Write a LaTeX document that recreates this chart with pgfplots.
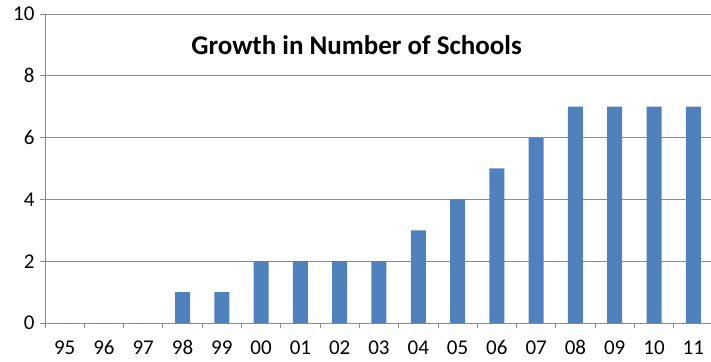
\documentclass[border=0pt]{standalone}
\usepackage{pgfplots}
\pgfplotsset{compat=1.18}
\usepackage{fontspec}
\setmainfont{Carlito}
\definecolor{barblue}{HTML}{4F81BD}
\definecolor{gridgray}{HTML}{8C8C8C}
\begin{document}
\begin{tikzpicture}
\begin{axis}[
    scale only axis,
    width=666pt, height=309pt,
    xmin=-0.5, xmax=16.45,
    ymin=0, ymax=10,
    ytick={0,2,...,10},
    xtick={0,...,16},
    xticklabels={95,96,97,98,99,00,01,02,03,04,05,06,07,08,09,10,11},
    minor xtick={-0.5,0.5,...,16.5},
    major x tick style={draw=none},
    minor tick length=5pt,
    major tick length=5pt,
    tick align=outside,
    tick style={gridgray, line width=0.8pt},
    ymajorgrids=true,
    grid style={gridgray, line width=0.8pt},
    axis x line*=bottom,
    axis y line*=left,
    axis line style={gridgray, line width=0.8pt, -},
    ticklabel style={font=\fontsize{21}{23}\selectfont},
    xticklabel style={yshift=-9pt},
    yticklabel style={xshift=-2pt},
    /pgf/number format/assume math mode=true,
    clip=false,
]
\addplot[ybar, bar width=15pt, fill=barblue, draw=none]
    coordinates {
    (0,0)(1,0)(2,0)(3,1)(4,1)(5,2)(6,2)(7,2)(8,2)
    (9,3)(10,4)(11,5)(12,6)(13,7)(14,7)(15,7)(16,7)
    };
\node[font=\bfseries\fontsize{27}{29}\selectfont] at (axis cs:7.43,9.0) {Growth in Number of Schools};
\end{axis}
\pgfresetboundingbox
\path ([shift={(-45pt,-38pt)}]current axis.south west) rectangle ([shift={(0pt,14pt)}]current axis.north east);
\end{tikzpicture}
\end{document}
